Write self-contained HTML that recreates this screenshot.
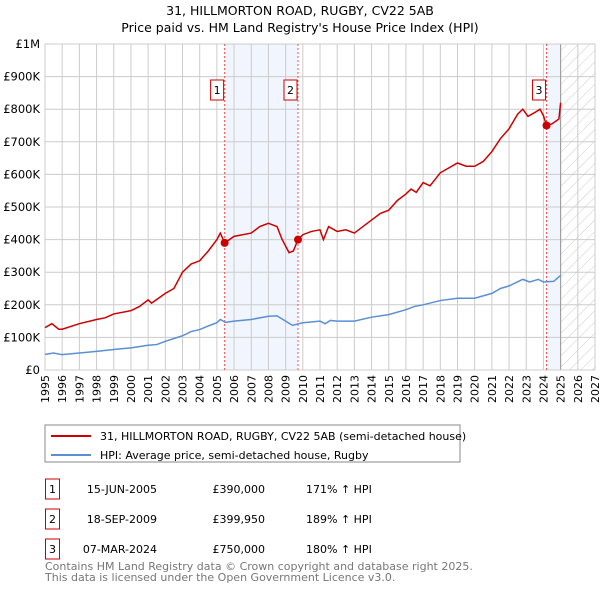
<!DOCTYPE html>
<html><head><meta charset="utf-8"><style>
body{margin:0;background:#fff;font-family:"Liberation Sans","DejaVu Sans",sans-serif;}
svg text{font-family:"DejaVu Sans","Liberation Sans",sans-serif;}
</style></head><body>
<svg id="c" width="600" height="590" xmlns="http://www.w3.org/2000/svg">
<defs><pattern id="hatch" width="8" height="8" patternUnits="userSpaceOnUse" patternTransform="rotate(45)"><line x1="0" y1="0" x2="0" y2="8" stroke="#ccc" stroke-width="1"/></pattern></defs>
<text x="300" y="15" text-anchor="middle" font-size="12.5">31, HILLMORTON ROAD, RUGBY, CV22 5AB</text>
<text x="300" y="32" text-anchor="middle" font-size="12.5">Price paid vs. HM Land Registry's House Price Index (HPI)</text>
<g id="plot"></g>
<rect x="45" y="425" width="415" height="37" fill="#fff" stroke="#888"/>
<line x1="51" y1="436" x2="91" y2="436" stroke="#cc0000" stroke-width="2"/>
<text x="100" y="440" font-size="11">31, HILLMORTON ROAD, RUGBY, CV22 5AB (semi-detached house)</text>
<line x1="51" y1="455" x2="91" y2="455" stroke="#5b8fd4" stroke-width="2"/>
<text x="100" y="459" font-size="11">HPI: Average price, semi-detached house, Rugby</text>
<g id="tbl"></g>
<text x="45" y="570" font-size="11" fill="#777">Contains HM Land Registry data © Crown copyright and database right 2025.</text>
<text x="45" y="581" font-size="11" fill="#777">This data is licensed under the Open Government Licence v3.0.</text>
</svg>
<script>
const hpiX=[1995,1995.5,1996,1997,1998,1999,2000,2001,2001.5,2002,2003,2003.5,2004,2004.5,2005,2005.2,2005.5,2006,2007,2008,2008.5,2009,2009.4,2010,2011,2011.3,2011.6,2012,2013,2014,2015,2016,2016.5,2017,2018,2019,2020,2021,2021.5,2022,2022.8,2023.2,2023.7,2024,2024.6,2025];
const hpiV=[48,52,47,52,57,63,68,76,78,88,105,118,124,135,145,155,146,150,155,165,166,150,137,145,150,142,152,150,150,162,170,185,195,200,213,220,220,235,250,258,278,270,278,270,272,290];
const priceX=[1995,1995.4,1995.8,1996,1997,1998,1998.5,1999,2000,2000.5,2001,2001.2,2002,2002.5,2003,2003.5,2004,2004.5,2005,2005.2,2005.45,2006,2007,2007.5,2008,2008.5,2008.8,2009.2,2009.45,2009.72,2010,2010.5,2011,2011.2,2011.5,2012,2012.5,2013,2014,2014.5,2015,2015.5,2016,2016.3,2016.6,2017,2017.4,2018,2018.5,2019,2019.5,2020,2020.5,2021,2021.5,2022,2022.5,2022.8,2023.1,2023.5,2023.8,2024,2024.18,2024.5,2024.9,2025];
const priceV=[130,142,125,125,142,155,160,172,182,195,215,205,235,250,300,325,335,365,400,420,390,410,420,440,450,440,400,360,365,400,415,425,430,400,440,425,430,420,460,480,490,520,540,555,545,575,565,605,620,635,625,625,640,670,710,740,785,800,778,790,800,780,750,755,770,820];
const saleX=[2005.45,2009.72,2024.18];
const saleV=[390,399.95,750];
const saleLabels=["1","2","3"];
const saleDates=["15-JUN-2005","18-SEP-2009","07-MAR-2024"];
const salePrices=["£390,000","£399,950","£750,000"];
const saleHpi=["171% ↑ HPI","189% ↑ HPI","180% ↑ HPI"];
const yTicks=[0,100,200,300,400,500,600,700,800,900,1000];
const yTickLabels=["£0","£100K","£200K","£300K","£400K","£500K","£600K","£700K","£800K","£900K","£1M"];
const years=[];for(let y=1995;y<=2027;y++)years.push(y);

const L=45,R=595,T=44,B=370,x0=1995,x1=2027,yMax=1000;
const X=v=>L+(v-x0)/(x1-x0)*(R-L);
const Y=v=>B-v/yMax*(B-T);
const NS="http://www.w3.org/2000/svg";
const g=document.getElementById('plot');
function mk(tag,attrs,parent){const e=document.createElementNS(NS,tag);for(const k in attrs)e.setAttribute(k,attrs[k]);(parent||g).appendChild(e);return e;}

let e;
e=mk('rect',{x:X(saleX[0]),y:T,width:X(saleX[1])-X(saleX[0]),height:B-T,fill:'#eef3fc',opacity:0.8});


e=mk('rect',{x:X(saleX[2]),y:T,width:X(2025)-X(saleX[2]),height:B-T,fill:'#eef3fc',opacity:0.8});


e=mk('rect',{x:X(2025),y:T,width:R-X(2025),height:B-T,fill:'url(#hatch)'});


years.forEach(y=>{
  e=mk('line',{x1:X(y),x2:X(y),y1:T,y2:B,stroke:'#ccc','stroke-width':1});
  
  
  e=mk('text',{x:0,y:0,'font-size':11,'text-anchor':'end',transform:`translate(${X(y)+4},${B+5}) rotate(-90)`});
  e.textContent=y;
  
  
});
yTicks.forEach((v,i)=>{
  e=mk('line',{x1:L,x2:R,y1:Y(v),y2:Y(v),stroke:'#ccc','stroke-width':1});
  
  
  e=mk('text',{x:L-5,y:Y(v)+4,'font-size':11.5,'text-anchor':'end'});
  e.textContent=yTickLabels[i];
  
  
});
e=mk('line',{x1:X(2025),x2:X(2025),y1:T,y2:B,stroke:'#999','stroke-width':1});


e=mk('rect',{x:L,y:T,width:R-L,height:B-T,fill:'none',stroke:'#ccc'});


saleX.forEach((s,i)=>{
  e=mk('line',{x1:X(s),x2:X(s),y1:T,y2:B,stroke:'#e55','stroke-width':1,'stroke-dasharray':'2,2'});
  
  
});
e=mk('polyline',{points:hpiX.map((x,i)=>X(x)+','+Y(hpiV[i])).join(' '),fill:'none',stroke:'#5b8fd4','stroke-width':1.5});


e=mk('polyline',{points:priceX.map((x,i)=>X(x)+','+Y(priceV[i])).join(' '),fill:'none',stroke:'#cc0000','stroke-width':1.5});


saleX.forEach((s,i)=>{
  e=mk('circle',{cx:X(s),cy:Y(saleV[i]),r:4,fill:'#cc0000'});
  
  
  const bx=X(s)-13;
  e=mk('rect',{x:bx-1,y:80,width:13,height:20,fill:'#fff',stroke:'#cc0000'});
  
  
  e=mk('text',{x:bx+5.5,y:94,'font-size':11,'text-anchor':'middle'});
  e.textContent=saleLabels[i];
  
  
});
const tb=document.getElementById('tbl');
saleLabels.forEach((l,i)=>{
  const cy=492+i*30;
  e=mk('rect',{x:45.5,y:cy-13,width:14,height:20,fill:'#fff',stroke:'#cc0000'},tb);
  
  
  const cells=[[52.5,l,'middle'],[157,saleDates[i],'end'],[265,salePrices[i],'end'],[306,saleHpi[i],'start']];
  cells.forEach(c=>{
    e=mk('text',{x:c[0],y:cy+1,'font-size':11,'text-anchor':c[2]},tb);
    e.textContent=c[1];
    
    
  });
});
</script>
</body></html>
